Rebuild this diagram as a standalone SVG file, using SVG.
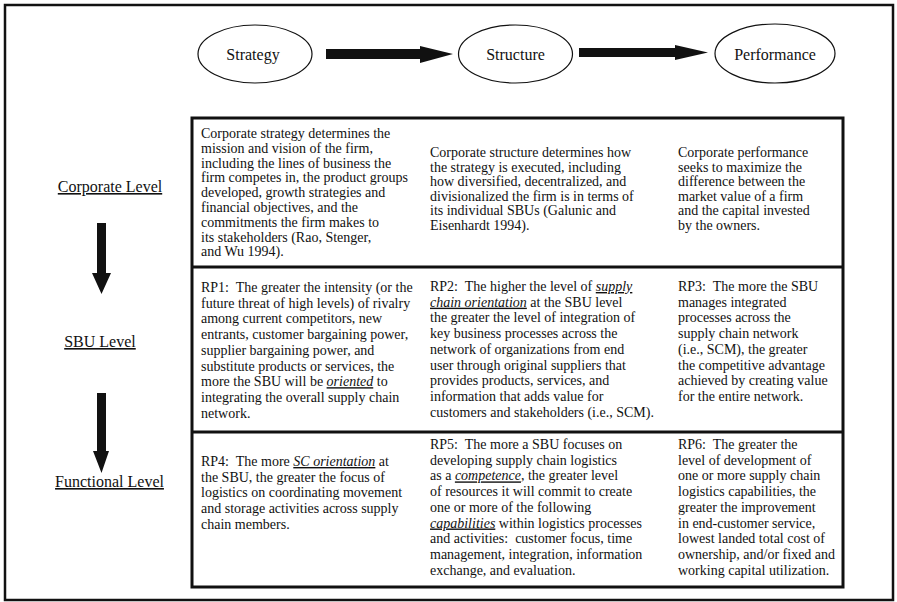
<svg xmlns="http://www.w3.org/2000/svg" width="897" height="602" viewBox="0 0 897 602">
<style>
.t{font-family:"Times New Roman","Liberation Serif","DejaVu Serif",serif;font-size:14px;fill:#111}
.h{font-family:"Times New Roman","Liberation Serif","DejaVu Serif",serif;font-size:16px;fill:#111}
.lv{font-family:"Times New Roman","Liberation Serif","DejaVu Serif",serif;font-size:16px;fill:#111;text-decoration:underline}
.u{font-style:italic;text-decoration:underline}
.ell{fill:#fff;stroke:#111;stroke-width:1.2}
.arr{fill:#111;stroke:none}
.frame{fill:none;stroke:#111}
</style>
<rect width="897" height="602" fill="#fff"/>
<rect class="frame" x="5" y="5" width="888" height="595" stroke-width="2.5"/>

<g id="strategy">
<ellipse class="ell" cx="255" cy="54" rx="57" ry="29"/>
<text class="h" x="253" y="60" text-anchor="middle">Strategy</text>
</g>
<g id="structure">
<ellipse class="ell" cx="515.5" cy="54" rx="57" ry="29"/>
<text class="h" x="515.5" y="60" text-anchor="middle">Structure</text>
</g>
<g id="performance">
<ellipse class="ell" cx="775" cy="53.5" rx="60" ry="29.5"/>
<text class="h" x="775" y="60" text-anchor="middle">Performance</text>
</g>

<g id="level-corporate">
<text class="lv" x="110" y="192" text-anchor="middle">Corporate Level</text>
</g>
<g id="level-sbu">
<text class="lv" x="100" y="347" text-anchor="middle">SBU Level</text>
</g>
<g id="level-functional">
<text class="lv" x="109.5" y="487" text-anchor="middle">Functional Level</text>
</g>

<g id="connectors">
<path class="arr" d="M326,49 H420 V46 L453,54 L420,63 V59 H326 Z"/>
<path class="arr" d="M579,48 H675 V45 L708,52.5 L675,60 V57 H579 Z"/>
<path class="arr" d="M97,223 H106 V273 H111 L101.5,294 L92,273 H97 Z"/>
<path class="arr" d="M97,393 H106 V451 H109 L101.5,473 L93,451 H97 Z"/>
</g>

<g id="table">
<rect class="frame" x="192" y="118" width="651" height="469" stroke-width="3"/>
<line class="frame" x1="192" y1="267" x2="843" y2="267" stroke-width="3"/>
<line class="frame" x1="192" y1="432" x2="843" y2="432" stroke-width="3"/>
</g>

<g id="corp-strategy">
<text class="t" x="201" y="138">Corporate strategy determines the</text>
<text class="t" x="201" y="152.8">mission and vision of the firm,</text>
<text class="t" x="201" y="167.6">including the lines of business the</text>
<text class="t" x="201" y="182.4">firm competes in, the product groups</text>
<text class="t" x="201" y="197.2">developed, growth strategies and</text>
<text class="t" x="201" y="212">financial objectives, and the</text>
<text class="t" x="201" y="226.8">commitments the firm makes to</text>
<text class="t" x="201" y="241.6">its stakeholders (Rao, Stenger,</text>
<text class="t" x="201" y="256.4">and Wu 1994).</text>
</g>
<g id="corp-structure">
<text class="t" x="430" y="157">Corporate structure determines how</text>
<text class="t" x="430" y="171.6">the strategy is executed, including</text>
<text class="t" x="430" y="186.2">how diversified, decentralized, and</text>
<text class="t" x="430" y="200.8">divisionalized the firm is in terms of</text>
<text class="t" x="430" y="215.4">its individual SBUs (Galunic and</text>
<text class="t" x="430" y="230">Eisenhardt 1994).</text>
</g>
<g id="corp-performance">
<text class="t" x="678" y="157">Corporate performance</text>
<text class="t" x="678" y="171.6">seeks to maximize the</text>
<text class="t" x="678" y="186.2">difference between the</text>
<text class="t" x="678" y="200.8">market value of a firm</text>
<text class="t" x="678" y="215.4">and the capital invested</text>
<text class="t" x="678" y="230">by the owners.</text>
</g>

<g id="rp1">
<text class="t" x="201" y="292">RP1:&#160; The greater the intensity (or the</text>
<text class="t" x="201" y="307.7">future threat of high levels) of rivalry</text>
<text class="t" x="201" y="323.4">among current competitors, new</text>
<text class="t" x="201" y="339.1">entrants, customer bargaining power,</text>
<text class="t" x="201" y="354.8">supplier bargaining power, and</text>
<text class="t" x="201" y="370.5">substitute products or services, the</text>
<text class="t" x="201" y="386.2">more the SBU will be <tspan class="u">oriented</tspan> to</text>
<text class="t" x="201" y="401.9">integrating the overall supply chain</text>
<text class="t" x="201" y="417.6">network.</text>
</g>
<g id="rp2">
<text class="t" x="430" y="291">RP2:&#160; The higher the level of <tspan class="u">supply</tspan></text>
<text class="t" x="430" y="306.7"><tspan class="u">chain orientation</tspan> at the SBU level</text>
<text class="t" x="430" y="322.4">the greater the level of integration of</text>
<text class="t" x="430" y="338.1">key business processes across the</text>
<text class="t" x="430" y="353.8">network of organizations from end</text>
<text class="t" x="430" y="369.5">user through original suppliers that</text>
<text class="t" x="430" y="385.2">provides products, services, and</text>
<text class="t" x="430" y="400.9">information that adds value for</text>
<text class="t" x="430" y="416.6">customers and stakeholders (i.e., SCM).</text>
</g>
<g id="rp3">
<text class="t" x="678" y="291">RP3:&#160; The more the SBU</text>
<text class="t" x="678" y="306.7">manages integrated</text>
<text class="t" x="678" y="322.4">processes across the</text>
<text class="t" x="678" y="338.1">supply chain network</text>
<text class="t" x="678" y="353.8">(i.e., SCM), the greater</text>
<text class="t" x="678" y="369.5">the competitive advantage</text>
<text class="t" x="678" y="385.2">achieved by creating value</text>
<text class="t" x="678" y="400.9">for the entire network.</text>
</g>

<g id="rp4">
<text class="t" x="201" y="466">RP4:&#160; The more <tspan class="u">SC orientation</tspan> at</text>
<text class="t" x="201" y="481.7">the SBU, the greater the focus of</text>
<text class="t" x="201" y="497.4">logistics on coordinating movement</text>
<text class="t" x="201" y="513.1">and storage activities across supply</text>
<text class="t" x="201" y="528.8">chain members.</text>
</g>
<g id="rp5">
<text class="t" x="430" y="449">RP5:&#160; The more a SBU focuses on</text>
<text class="t" x="430" y="464.7">developing supply chain logistics</text>
<text class="t" x="430" y="480.4">as a <tspan class="u">competence</tspan>, the greater level</text>
<text class="t" x="430" y="496.1">of resources it will commit to create</text>
<text class="t" x="430" y="511.8">one or more of the following</text>
<text class="t" x="430" y="527.5"><tspan class="u">capabilities</tspan> within logistics processes</text>
<text class="t" x="430" y="543.2">and activities:&#160; customer focus, time</text>
<text class="t" x="430" y="558.9">management, integration, information</text>
<text class="t" x="430" y="574.6">exchange, and evaluation.</text>
</g>
<g id="rp6">
<text class="t" x="678" y="449">RP6:&#160; The greater the</text>
<text class="t" x="678" y="464.7">level of development of</text>
<text class="t" x="678" y="480.4">one or more supply chain</text>
<text class="t" x="678" y="496.1">logistics capabilities, the</text>
<text class="t" x="678" y="511.8">greater the improvement</text>
<text class="t" x="678" y="527.5">in end-customer service,</text>
<text class="t" x="678" y="543.2">lowest landed total cost of</text>
<text class="t" x="678" y="558.9">ownership, and/or fixed and</text>
<text class="t" x="678" y="574.6">working capital utilization.</text>
</g>
</svg>
